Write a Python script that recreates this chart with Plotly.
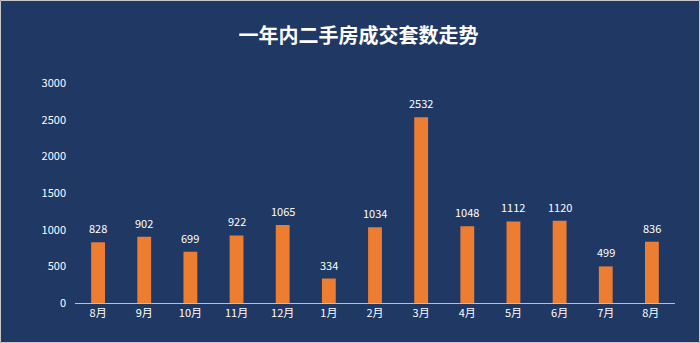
import plotly.graph_objects as go

months = ["8月", "9月", "10月", "11月", "12月", "1月", "2月", "3月", "4月", "5月", "6月", "7月", "8月 "]
deals = [828, 902, 699, 922, 1065, 334, 1034, 2532, 1048, 1112, 1120, 499, 836]
y_ticks = [0, 500, 1000, 1500, 2000, 2500, 3000]

W, H = 700, 343
ML, MR, MT, MB = 75, 25, 83, 40
pw, ph = W - ML - MR, H - MT - MB

fig = go.Figure(go.Bar(
    x=months, y=deals,
    marker=dict(color="#ed7d31", line=dict(width=0)),
    width=0.3,
    hoverinfo="skip",
))

for m, v in zip(months, deals):
    fig.add_annotation(x=m, y=v, text=str(v), showarrow=False, yanchor="bottom",
                       yshift=4, font=dict(color="#ffffff", size=11, family="Noto Sans CJK SC"))

fig.update_layout(
    width=W, height=H,
    margin=dict(l=ML, r=MR, t=MT, b=MB),
    paper_bgcolor="#1f3864",
    plot_bgcolor="#1f3864",
    font=dict(family="Noto Sans CJK SC", color="#ffffff", size=11),
    title=dict(text="<b>一年内二手房成交套数走势</b>", x=0.512, xanchor="center",
               y=1 - 36 / H, yanchor="middle",
               font=dict(size=20, color="#ffffff", family="Noto Sans CJK SC")),
    showlegend=False,
    xaxis=dict(showgrid=False, showline=True, linecolor="#bfbfbf", linewidth=1,
               ticks="", tickfont=dict(size=11, color="#ffffff"), zeroline=False),
    yaxis=dict(range=[0, 3000], tickvals=y_ticks, showgrid=False, zeroline=False,
               showline=False, ticks="", tickfont=dict(size=11, color="#ffffff"),
               ticklabelstandoff=8),
    shapes=[dict(type="rect", xref="paper", yref="paper",
                 x0=-ML / pw + 0.5 / pw, x1=1 + MR / pw - 0.5 / pw,
                 y0=-MB / ph + 0.5 / ph, y1=1 + MT / ph - 0.5 / ph,
                 line=dict(color="#c8c8c8", width=1), layer="above")],
)

fig.write_html("out.html")
